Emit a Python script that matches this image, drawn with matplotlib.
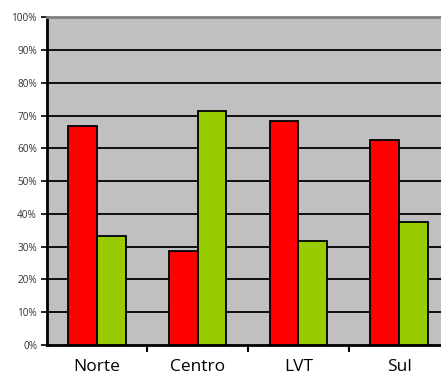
import matplotlib
matplotlib.use('Agg')
import matplotlib.pyplot as plt
import numpy as np
from matplotlib.ticker import FixedLocator, PercentFormatter

plt.rcParams['font.family'] = ['Open Sans', 'DejaVu Sans']

# Share of each region, two series
regions = ['Norte', 'Centro', 'LVT', 'Sul']
red_share = [66.7, 28.6, 68.4, 62.5]
green_share = [33.3, 71.4, 31.6, 37.5]

fig = plt.figure(figsize=(4.41, 3.85), dpi=100)
ax = fig.add_axes([0.106, 0.104, 0.913, 0.851])
ax.set_facecolor('#C0C0C0')

x = np.arange(len(regions))
w = 0.2857
ax.bar(x - w / 2, red_share, w, color='#FF0000', edgecolor='black', linewidth=1.3, zorder=3)
ax.bar(x + w / 2, green_share, w, color='#99CC00', edgecolor='black', linewidth=1.3, zorder=3)

ax.set_xlim(-0.5, len(regions) - 0.5)
ax.set_ylim(0, 100)

# y axis: percent ticks, black gridlines
ax.set_yticks(np.arange(0, 101, 10))
ax.yaxis.set_major_formatter(PercentFormatter(decimals=0))
ax.tick_params(axis='y', length=4, width=1.2, labelsize=7.2, pad=3, colors='black')
for t in ax.get_yticklabels():
    t.set_color('#333333')
for yv in range(10, 100, 10):
    ax.axhline(yv, color='black', linewidth=1.3, zorder=1)

# x axis: ticks between categories, labels at centres
ax.xaxis.set_major_locator(FixedLocator(x[:-1] + 0.5))
ax.xaxis.set_minor_locator(FixedLocator(x))
ax.set_xticklabels([], minor=False)
ax.set_xticklabels(regions, minor=True)
ax.tick_params(axis='x', which='major', length=5, width=1.5, direction='out')
ax.tick_params(axis='x', which='minor', length=0, labelsize=12.5, pad=10)

ax.spines['left'].set_linewidth(2)
ax.spines['bottom'].set_linewidth(2)
ax.spines['top'].set_color('#808080')
ax.spines['top'].set_linewidth(2)
ax.spines['right'].set_visible(False)

plt.savefig('out.png', dpi=100)
plt.close()
